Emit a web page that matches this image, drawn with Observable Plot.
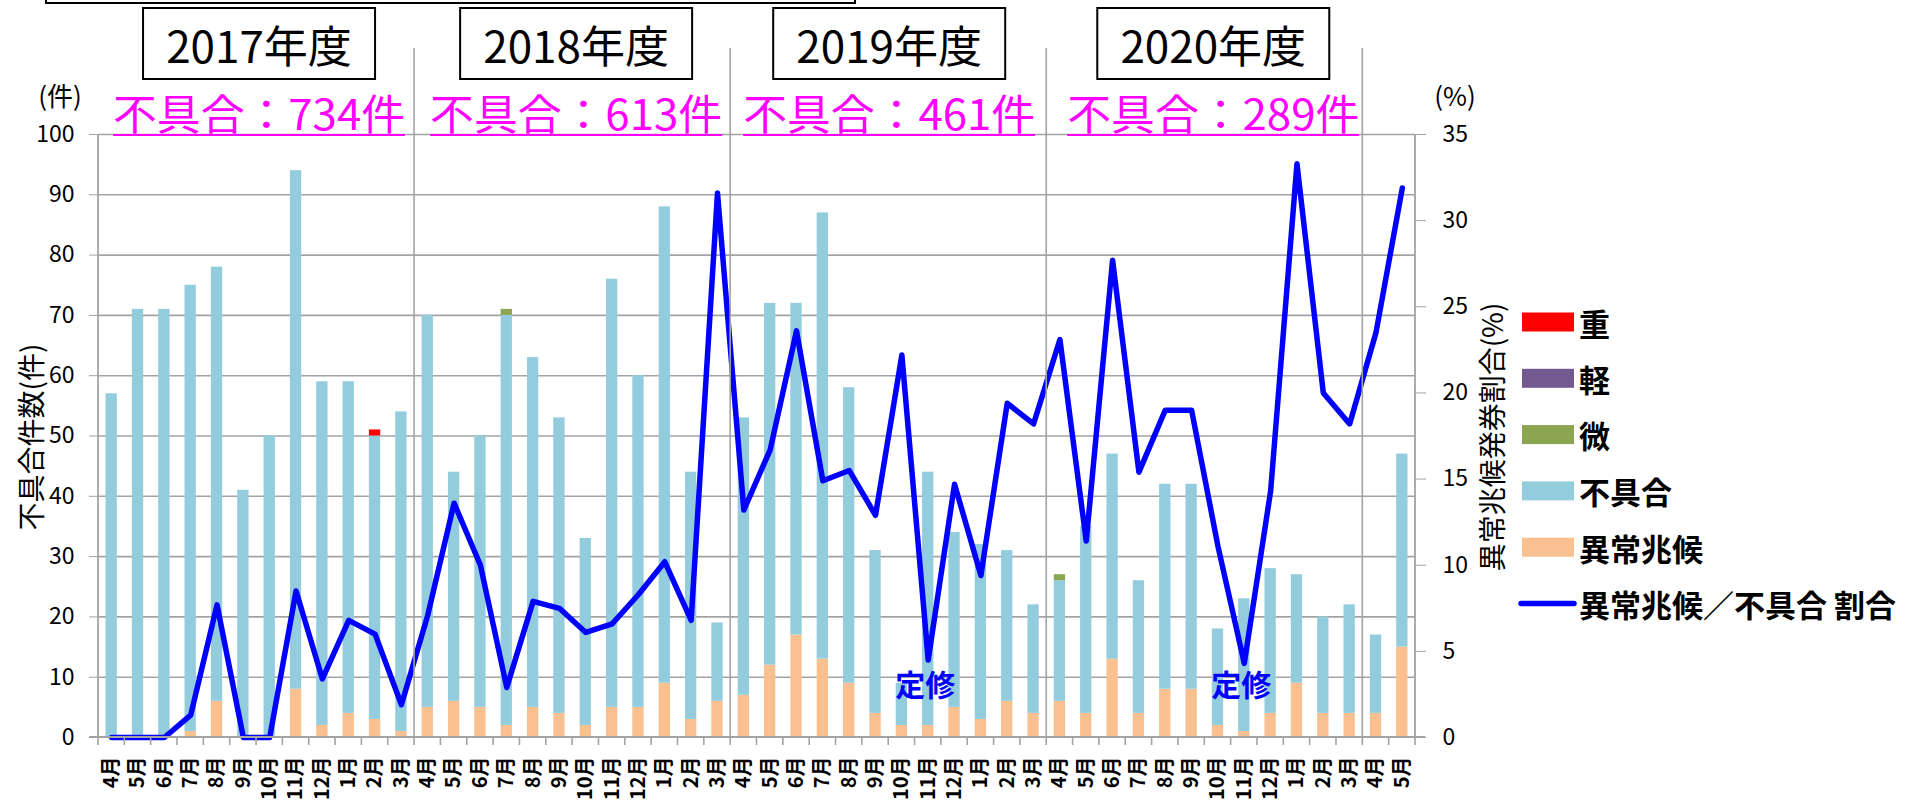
<!DOCTYPE html>
<html><head><meta charset="utf-8">
<script src="https://cdn.jsdelivr.net/npm/d3@7"></script>
<script src="https://cdn.jsdelivr.net/npm/@observablehq/plot@0.6"></script>
<style>
html,body{margin:0;padding:0;background:#fff;overflow:hidden}
svg{display:block}
</style></head><body><div id="chart"></div>
<script>
// ---- data ----
const monthLabels = [
  "4月","5月","6月","7月","8月","9月","10月","11月","12月","1月","2月","3月",
  "4月","5月","6月","7月","8月","9月","10月","11月","12月","1月","2月","3月",
  "4月","5月","6月","7月","8月","9月","10月","11月","12月","1月","2月","3月",
  "4月","5月","6月","7月","8月","9月","10月","11月","12月","1月","2月","3月",
  "4月","5月"
];
// 異常兆候 (bottom segment)
const anomaly = [
  0,0,0,1,6,0,0,8,2,4,3,1,
  5,6,5,2,5,4,2,5,5,9,3,6,
  7,12,17,13,9,4,2,2,5,3,6,4,
  6,4,13,4,8,8,2,1,4,9,4,4,
  4,15
];
// 不具合 (light-blue segment)
const failure = [
  57,71,71,74,72,41,50,86,57,55,47,53,
  65,38,45,68,58,49,31,71,55,79,41,13,
  46,60,55,74,49,27,7,42,29,29,25,18,
  20,31,34,22,34,34,16,22,24,18,16,18,
  13,32
];
// 微
const slight = [
  0,0,0,0,0,0,0,0,0,0,0,0,
  0,0,0,1,0,0,0,0,0,0,0,0,
  0,0,0,0,0,0,0,0,0,0,0,0,
  1,0,0,0,0,0,0,0,0,0,0,0,
  0,0
];
// 軽
const light = [
  0,0,0,0,0,0,0,0,0,0,0,0,
  0,0,0,0,0,0,0,0,0,0,0,0,
  0,0,0,0,0,0,0,0,0,0,0,0,
  0,0,0,0,0,0,0,0,0,0,0,0,
  0,0
];
// 重
const heavy = [
  0,0,0,0,0,0,0,0,0,0,1,0,
  0,0,0,0,0,0,0,0,0,0,0,0,
  0,0,0,0,0,0,0,0,0,0,0,0,
  0,0,0,0,0,0,0,0,0,0,0,0,
  0,0
];
// 異常兆候／不具合 割合 (%)
const ratio = [
  0,0,0,1.3,7.7,0,0,8.5,3.4,6.8,6.0,1.9,
  7.1,13.6,10.0,2.9,7.9,7.5,6.1,6.6,8.3,10.2,6.8,31.6,
  13.2,16.7,23.6,14.9,15.5,12.9,22.2,4.5,14.7,9.4,19.4,18.2,
  23.1,11.4,27.7,15.4,19.0,19.0,11.1,4.3,14.3,33.3,20.0,18.2,
  23.5,31.9
];
const fiscalYears = ["2017年度","2018年度","2019年度","2020年度"];
const fyFailureCounts = [734, 613, 461, 289];
const seriesNames = ["異常兆候","不具合","微","軽","重"];
const leftTicks = [0,10,20,30,40,50,60,70,80,90,100];
const rightTicks = [0,5,10,15,20,25,30,35];
const teishuIndex = [31, 43];   // 定修 months (2019/11, 2020/11)
const teishuLabel = "定修";
const teishuLevel = 8.5;

// ---- build ----
const W = 1913, H = 802;
const FONT = "'Noto Sans CJK JP','Noto Sans',sans-serif";
const colors = ["#FAC090","#93CDDD","#8BA550","#72598F","#FF0000"];
const gridColor = "#A3A3A3";
const idx = d3.range(monthLabels.length);
const segArrays = [anomaly, failure, slight, light, heavy];
const stackRows = [];
idx.forEach(i => segArrays.forEach((arr, k) => stackRows.push({i, s: seriesNames[k], v: arr[i]})));
const lineRows = idx.map(i => ({i, r: ratio[i]}));
const toLeft = r => r * 100 / 35;
const teishuRows = teishuIndex.map(i => ({i, y: teishuLevel, t: teishuLabel}));

const plot = Plot.plot({
  width: W, height: H,
  marginLeft: 98, marginRight: 498, marginTop: 134, marginBottom: 65,
  style: {fontFamily: FONT, background: "#fff", color: "#000", overflow: "visible"},
  x: {type: "band", domain: idx, paddingInner: 0.57, paddingOuter: 0.285, round: false},
  y: {domain: [0, 100]},
  color: {domain: seriesNames, range: colors},
  marks: [
    Plot.ruleY(leftTicks.filter(t => t > 0), {stroke: gridColor, strokeWidth: 1.6}),
    Plot.barY(stackRows, {x: "i", y: "v", fill: "s"}),
    Plot.line(lineRows, {x: "i", y: d => toLeft(d.r), stroke: "#0000FF", strokeWidth: 5.5,
      strokeLinejoin: "round", strokeLinecap: "round"}),
    Plot.text(teishuRows, {x: "i", y: "y", text: "t", fill: "#0000FF", fontSize: 30, fontWeight: "bold", dx: -3}),
    Plot.axisY(leftTicks, {anchor: "left", tickSize: 9, tickPadding: 15, fontSize: 23,
      stroke: gridColor, fill: "#000", label: null}),
    Plot.axisY(rightTicks.map(toLeft), {anchor: "right", tickSize: 10, tickPadding: 17, fontSize: 23,
      tickFormat: d => Math.round(d * 35 / 100), stroke: gridColor, fill: "#000", label: null}),
    Plot.axisX({tickFormat: i => monthLabels[i], tickRotate: -90, tickSize: 0, tickPadding: 19,
      fontSize: 20, fontWeight: "bold", fill: "#000", label: null})
  ]
});
document.getElementById("chart").appendChild(plot);

// ---- decorations using the plot's own scales ----
const sx = plot.scale("x"), sy = plot.scale("y");
const step = sx.step, bw = sx.bandwidth;
const xStart = sx.apply(0) - (step - bw) / 2;
const boundary = k => xStart + k * step;
const yTop = sy.apply(100), yBot = sy.apply(0);
const svg = d3.select(plot);
const g = svg.append("g").attr("font-family", FONT).attr("text-anchor", "start");

// axis lines
g.append("line").attr("x1", boundary(0)).attr("x2", boundary(0)).attr("y1", yTop).attr("y2", yBot)
  .attr("stroke", gridColor).attr("stroke-width", 1.8);
g.append("line").attr("x1", boundary(idx.length)).attr("x2", boundary(idx.length)).attr("y1", yTop).attr("y2", yBot)
  .attr("stroke", gridColor).attr("stroke-width", 1.8);
// bottom category ticks
d3.range(idx.length + 1).forEach(k => {
  g.append("line").attr("x1", boundary(k)).attr("x2", boundary(k)).attr("y1", yBot).attr("y2", yBot + 8)
    .attr("stroke", gridColor).attr("stroke-width", 1.6);
});
g.append("line").attr("x1", boundary(0) - 9).attr("x2", boundary(idx.length) + 10).attr("y1", yBot).attr("y2", yBot)
  .attr("stroke", gridColor).attr("stroke-width", 1.8);
// fiscal year separators
[12, 24, 36, 48].forEach(k => {
  g.append("line").attr("x1", boundary(k)).attr("x2", boundary(k)).attr("y1", 48).attr("y2", yBot)
    .attr("stroke", gridColor).attr("stroke-width", 1.6);
});
// cut-off box at the very top
g.append("rect").attr("x", 46).attr("y", -20).attr("width", 809).attr("height", 23)
  .attr("fill", "none").attr("stroke", "#000").attr("stroke-width", 2);

// year boxes and counts
const fyNudge = [3, 4, 1, 9];
fiscalYears.forEach((label, k) => {
  const cx = boundary(12 * k + 6) + fyNudge[k];
  g.append("rect").attr("x", cx - 116).attr("y", 8).attr("width", 232).attr("height", 71)
    .attr("fill", "#fff").attr("stroke", "#000").attr("stroke-width", 2);
  g.append("text").attr("x", cx).attr("y", 44).attr("text-anchor", "middle").attr("dominant-baseline", "central")
    .attr("font-size", 44).attr("fill", "#000").text(label);
  const cap = "不具合：" + fyFailureCounts[k] + "件";
  g.append("text").attr("x", cx - 146).attr("y", 130).attr("text-anchor", "start").attr("font-size", 42)
    .attr("fill", "#FF00FF").attr("textLength", 292).attr("lengthAdjust", "spacingAndGlyphs").text(cap);
  g.append("line").attr("x1", cx - 146).attr("x2", cx + 146).attr("y1", 135).attr("y2", 135)
    .attr("stroke", "#FF00FF").attr("stroke-width", 2.2);
});

// axis titles
g.append("text").attr("x", 60).attr("y", 94).attr("text-anchor", "middle").attr("dominant-baseline", "central")
  .attr("font-size", 26).attr("fill", "#000").text("(件)");
g.append("text").attr("x", 1455).attr("y", 94).attr("text-anchor", "middle").attr("dominant-baseline", "central")
  .attr("font-size", 26).attr("fill", "#000").text("(%)");
g.append("text").attr("transform", "translate(30,437) rotate(-90)").attr("text-anchor", "middle")
  .attr("dominant-baseline", "central").attr("font-size", 28).attr("fill", "#000").text("不具合件数(件)");
g.append("text").attr("transform", "translate(1491,437) rotate(-90)").attr("text-anchor", "middle")
  .attr("dominant-baseline", "central").attr("font-size", 28).attr("fill", "#000").text("異常兆候発券割合(%)");

// legend
const legendOrder = [4, 3, 2, 1, 0];
const LFS = 31;
legendOrder.forEach((si, r) => {
  const cy = 322 + r * 56.3;
  g.append("rect").attr("x", 1522).attr("y", cy - 9.5).attr("width", 52).attr("height", 19).attr("fill", colors[si]);
  g.append("text").attr("x", 1579).attr("y", cy).attr("text-anchor", "start").attr("dominant-baseline", "central")
    .attr("font-size", LFS).attr("font-weight", "bold").attr("fill", "#000").text(seriesNames[si]);
});
{
  const cy = 322 + 5 * 56.3;
  g.append("line").attr("x1", 1521).attr("x2", 1574).attr("y1", cy).attr("y2", cy)
    .attr("stroke", "#0000FF").attr("stroke-width", 5.5).attr("stroke-linecap", "round");
  g.append("text").attr("x", 1579).attr("y", cy).attr("text-anchor", "start").attr("dominant-baseline", "central")
    .attr("font-size", LFS).attr("font-weight", "bold").attr("fill", "#000").text("異常兆候／不具合 割合");
}
</script></body></html>
